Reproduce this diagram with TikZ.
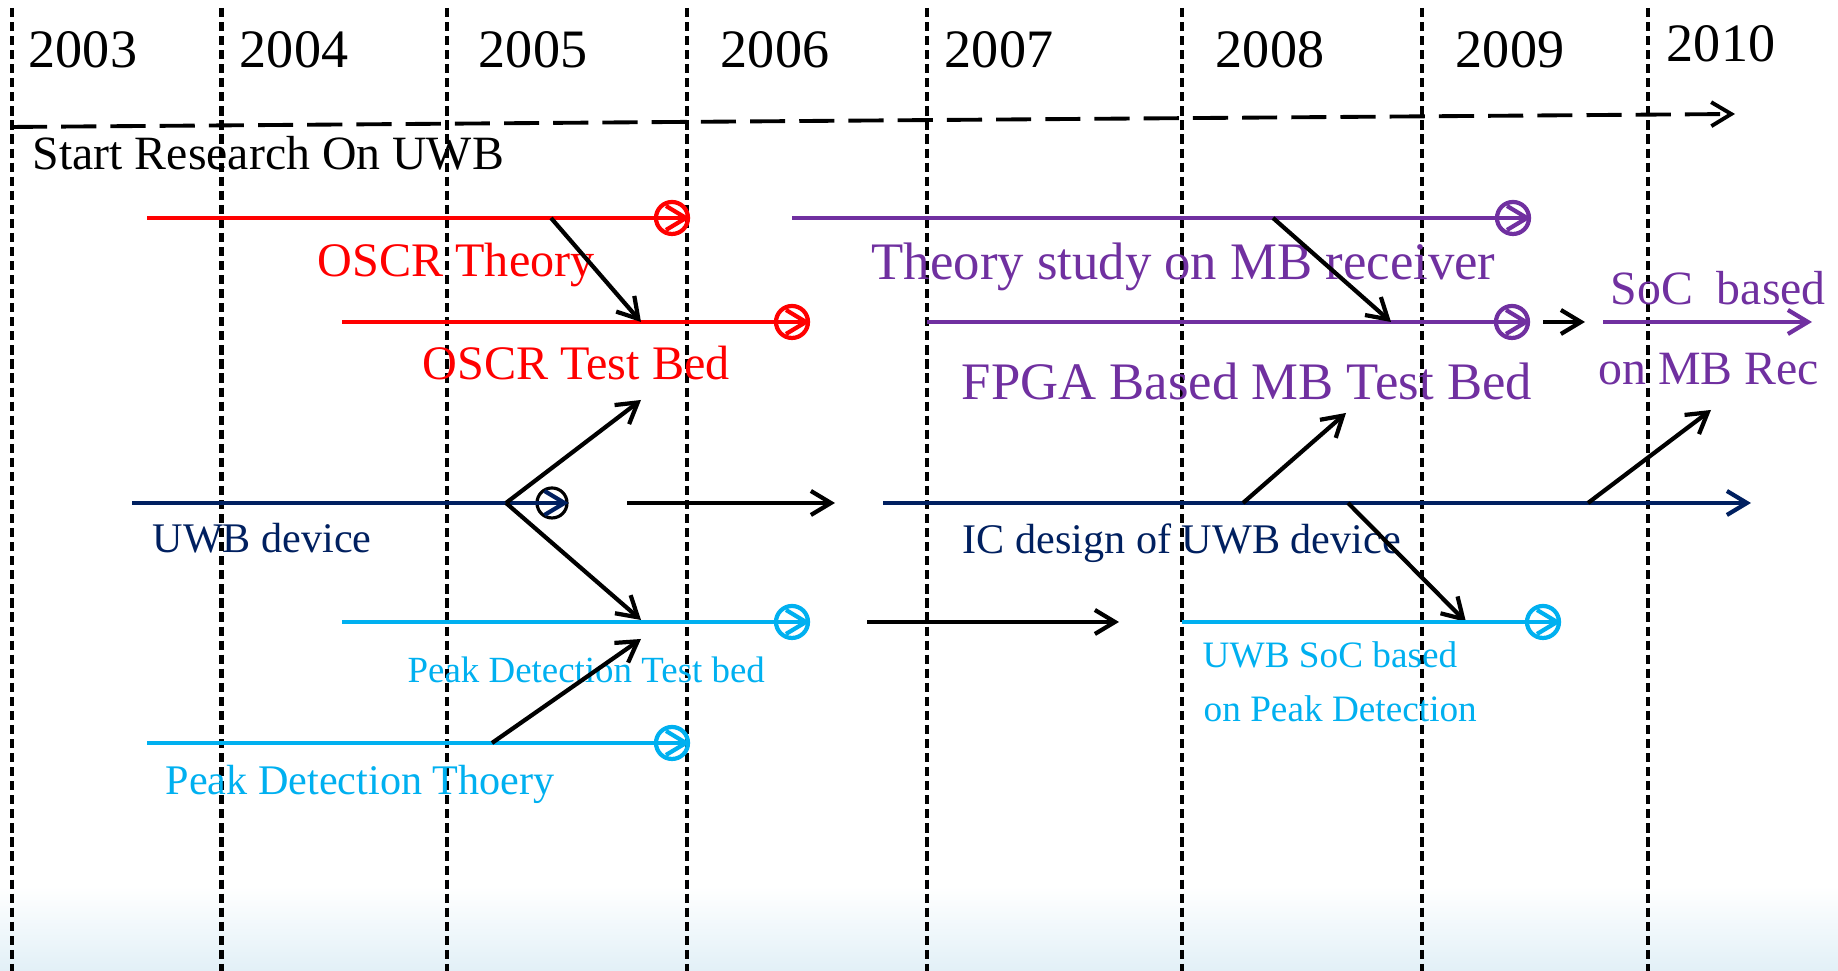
\documentclass[tikz,border=0pt]{standalone}
\usepackage{fontspec}
\setmainfont{Liberation Serif}
\usetikzlibrary{arrows.meta,positioning}
\definecolor{oscrred}{HTML}{FF0000}
\definecolor{mbpurple}{HTML}{7030A0}
\definecolor{uwbnavy}{HTML}{002060}
\definecolor{peakblue}{HTML}{00B0F0}
\definecolor{skymist}{HTML}{E2F0F7}

\begin{document}
\begin{tikzpicture}[
  yearline/.style={draw=black,line width=1.25pt,dash pattern=on 2.6pt off 1.4pt},
  yearlbl/.style={anchor=base,inner sep=0pt,font=\fontsize{15.4}{18}\selectfont},
  lbl/.style={anchor=base west,inner sep=0pt},
  barb/.style={-{Straight Barb[length=2mm,width=2.4mm]}},
  track/.style={barb,line width=1.2pt},
  conn/.style={barb,draw=black,line width=1.2pt},
  ring/.style={circle,draw=#1,line width=1.2pt,minimum size=0.32cm,inner sep=0pt}
]
\useasboundingbox (0,0) rectangle (18.38,9.71);
\fill[white] (0,0) rectangle (18.38,9.71);
\shade[top color=white,bottom color=skymist] (0,0) rectangle (18.38,0.85);

% year grid
\foreach \xx in {0.12,2.215,4.47,6.87,9.27,11.82,14.22,16.48}
  \draw[yearline] (\xx,9.63) -- (\xx,0);
\foreach \yr/\xx/\yy in {2003/0.83/9.03,2004/2.94/9.03,2005/5.33/9.03,2006/7.75/9.03,
                         2007/9.99/9.03,2008/12.70/9.03,2009/15.10/9.03,2010/17.21/9.09}
  \node[yearlbl] (y\yr) at (\xx,\yy) {\yr};

\coordinate (startL) at (0.12,8.44);
\coordinate (startR) at (17.35,8.57);
\draw[barb,line width=1.1pt,dash pattern=on 10pt off 4pt] (startL) -- (startR);
\node[lbl,font=\fontsize{13.6}{16}\selectfont] (start) at (0.32,8.01) {Start Research On UWB};

% OSCR
\coordinate (oscrTh0) at (1.47,7.53);
\node[ring=oscrred] (oscrTh1) at (6.72,7.53) {};
\draw[track,oscrred] (oscrTh0) -- (oscrTh1.east);
\node[lbl,oscrred,font=\fontsize{13.7}{16}\selectfont] (oscrThL) at (3.17,6.94) {OSCR Theory};
\coordinate (oscrTb0) at (3.42,6.49);
\node[ring=oscrred] (oscrTb1) at (7.92,6.49) {};
\draw[track,oscrred] (oscrTb0) -- (oscrTb1.east);
\node[lbl,oscrred,font=\fontsize{13.7}{16}\selectfont] (oscrTbL) at (4.22,5.91) {OSCR Test Bed};
\coordinate (oscrA) at (5.51,7.53);
\coordinate (oscrB) at (6.41,6.49);
\draw[conn] (oscrA) -- (oscrB);

% MB receiver
\coordinate (mbTh0) at (7.92,7.53);
\node[ring=mbpurple] (mbTh1) at (15.13,7.53) {};
\draw[track,mbpurple] (mbTh0) -- (mbTh1.east);
\node[lbl,mbpurple,font=\fontsize{15}{18}\selectfont] (mbThL) at (8.71,6.91) {Theory study on MB receiver};
\coordinate (mbTb0) at (9.27,6.49);
\node[ring=mbpurple] (mbTb1) at (15.12,6.49) {};
\draw[track,mbpurple] (mbTb0) -- (mbTb1.east);
\node[lbl,mbpurple,font=\fontsize{15}{18}\selectfont] (mbTbL) at (9.61,5.71) {FPGA Based MB Test Bed};
\coordinate (mbA) at (12.73,7.53);
\coordinate (mbB) at (13.91,6.49);
\draw[conn] (mbA) -- (mbB);
\coordinate (socA) at (15.43,6.49);
\coordinate (socB) at (15.85,6.49);
\draw[conn] (socA) -- (socB);
\coordinate (soc0) at (16.03,6.49);
\coordinate (soc1) at (18.12,6.49);
\draw[track,mbpurple] (soc0) -- (soc1);
\node[lbl,mbpurple,font=\fontsize{13.6}{16}\selectfont] (socL1) at (16.10,6.66) {SoC\ \ based};
\node[lbl,mbpurple,font=\fontsize{13.6}{16}\selectfont] (socL2) at (15.98,5.86) {on MB Rec};

% UWB device
\coordinate (uwb0) at (1.32,4.68);
\node[ring=black,line width=0.9pt,minimum size=0.30cm] (uwb1) at (5.52,4.68) {};
\draw[track,uwbnavy] (uwb0) -- (uwb1.east);
\node[lbl,uwbnavy,font=\fontsize{12}{14}\selectfont] (uwbL) at (1.52,4.18) {UWB device};
\coordinate (uwbFork) at (5.06,4.68);
\coordinate (forkUp) at (6.41,5.71);
\coordinate (forkDn) at (6.41,3.51);
\draw[conn] (uwbFork) -- (forkUp);
\draw[conn] (uwbFork) -- (forkDn);
\coordinate (icA) at (6.27,4.68);
\coordinate (icB) at (8.35,4.68);
\draw[conn] (icA) -- (icB);
\coordinate (ic0) at (8.83,4.68);
\coordinate (ic1) at (17.51,4.68);
\draw[track,uwbnavy] (ic0) -- (ic1);
\node[lbl,uwbnavy,font=\fontsize{12}{14}\selectfont] (icL) at (9.62,4.17) {IC design of UWB device};
\coordinate (icUp0) at (12.43,4.68);
\coordinate (icUp1) at (13.46,5.58);
\draw[conn] (icUp0) -- (icUp1);
\coordinate (icDn0) at (13.48,4.68);
\coordinate (icDn1) at (14.66,3.49);
\draw[conn] (icDn0) -- (icDn1);
\coordinate (icRec0) at (15.88,4.68);
\coordinate (icRec1) at (17.11,5.61);
\draw[conn] (icRec0) -- (icRec1);

% Peak detection
\coordinate (pkTb0) at (3.42,3.49);
\node[ring=peakblue] (pkTb1) at (7.92,3.49) {};
\draw[track,peakblue] (pkTb0) -- (pkTb1.east);
\node[lbl,peakblue,font=\fontsize{10.5}{12}\selectfont] (pkTbL) at (4.07,2.88) {Peak Detection Test bed};
\coordinate (pkA) at (8.67,3.49);
\coordinate (pkB) at (11.19,3.49);
\draw[conn] (pkA) -- (pkB);
\coordinate (pkSoc0) at (11.82,3.49);
\node[ring=peakblue] (pkSoc1) at (15.43,3.49) {};
\draw[track,peakblue] (pkSoc0) -- (pkSoc1.east);
\node[lbl,peakblue,font=\fontsize{10.6}{12}\selectfont] (pkSocL1) at (12.02,3.03) {UWB SoC based};
\node[lbl,peakblue,font=\fontsize{10.6}{12}\selectfont] (pkSocL2) at (12.03,2.49) {on Peak Detection};
\coordinate (pkTh0) at (1.47,2.28);
\node[ring=peakblue] (pkTh1) at (6.72,2.28) {};
\draw[track,peakblue] (pkTh0) -- (pkTh1.east);
\node[lbl,peakblue,font=\fontsize{12}{14}\selectfont] (pkThL) at (1.65,1.76) {Peak Detection Thoery};
\coordinate (pkUp0) at (4.92,2.28);
\coordinate (pkUp1) at (6.41,3.32);
\draw[conn] (pkUp0) -- (pkUp1);
\end{tikzpicture}
\end{document}
